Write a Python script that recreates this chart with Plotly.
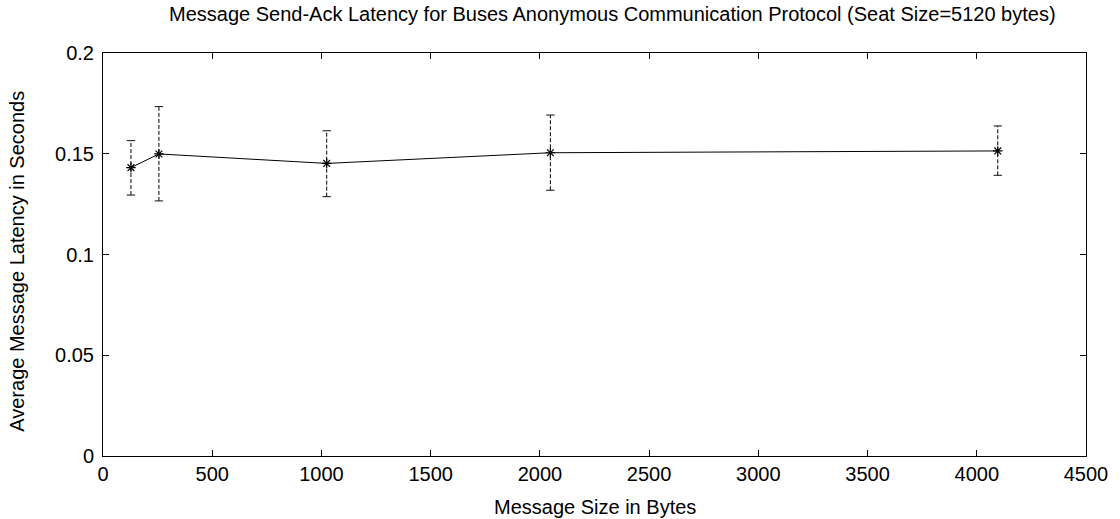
import plotly.graph_objects as go

# Message sizes (bytes) and measured send-ack latency (seconds)
msg_size = [128, 256, 1024, 2048, 4096]
latency_mean = [0.1431, 0.1499, 0.1452, 0.1505, 0.1514]
latency_low = [0.1295, 0.1266, 0.1287, 0.1319, 0.1393]
latency_high = [0.1565, 0.1734, 0.1614, 0.1692, 0.1638]

x_ticks = [0, 500, 1000, 1500, 2000, 2500, 3000, 3500, 4000, 4500]
y_ticks = [0, 0.05, 0.1, 0.15, 0.2]
y_tick_text = ["0", "0.05", "0.1", "0.15", "0.2"]

FONT = "Liberation Sans, Arial, sans-serif"

fig = go.Figure()

# dashed vertical error bars, one segment per message size
bar_x, bar_y = [], []
for xv, lo, hi in zip(msg_size, latency_low, latency_high):
    bar_x += [xv, xv, None]
    bar_y += [lo, hi, None]
fig.add_trace(go.Scatter(
    x=bar_x, y=bar_y, mode="lines",
    line=dict(color="#000000", width=1, dash="4px,2px"),
    hoverinfo="skip", showlegend=False,
))

# small caps at both ends of each error bar
fig.add_trace(go.Scatter(
    x=msg_size + msg_size, y=latency_low + latency_high, mode="markers",
    marker=dict(symbol="line-ew", size=6, line=dict(color="#111111", width=1)),
    hoverinfo="skip", showlegend=False,
))

# mean latency line with asterisk points
fig.add_trace(go.Scatter(
    x=msg_size, y=latency_mean, mode="lines+markers",
    line=dict(color="black", width=1),
    marker=dict(symbol="asterisk-open", size=8, color="black",
                line=dict(color="black", width=1.2)),
    showlegend=False,
))

axis_common = dict(
    showgrid=False, zeroline=False, showline=True, linecolor="black",
    linewidth=1, mirror="ticks", ticks="inside", ticklen=6, tickwidth=1,
    tickcolor="black", tickfont=dict(family=FONT, size=20, color="black"),
)

fig.update_xaxes(range=[0, 4500], tickvals=x_ticks, **axis_common)
fig.update_yaxes(range=[0, 0.2], tickvals=y_ticks, ticktext=y_tick_text,
                 ticklabelstandoff=4, **axis_common)

fig.update_layout(
    width=1120, height=519,
    margin=dict(l=103, r=26, t=53, b=63),
    paper_bgcolor="white", plot_bgcolor="white",
    font=dict(family=FONT, color="black"),
    annotations=[
        dict(text="Message Send-Ack Latency for Buses Anonymous Communication Protocol (Seat Size=5120 bytes)",
             xref="paper", yref="paper", x=0.5187, y=1, yshift=39,
             xanchor="center", yanchor="middle", showarrow=False,
             font=dict(family=FONT, size=20, color="black")),
        dict(text="Message Size in Bytes",
             xref="paper", yref="paper", x=0.5, y=0, yshift=-51,
             xanchor="center", yanchor="middle", showarrow=False,
             font=dict(family=FONT, size=20, color="black")),
        dict(text="Average Message Latency in Seconds", textangle=-90,
             xref="paper", yref="paper", x=0, xshift=-86, y=0.482,
             xanchor="center", yanchor="middle", showarrow=False,
             font=dict(family=FONT, size=20, color="black")),
    ],
)

fig.write_html("out.html")
